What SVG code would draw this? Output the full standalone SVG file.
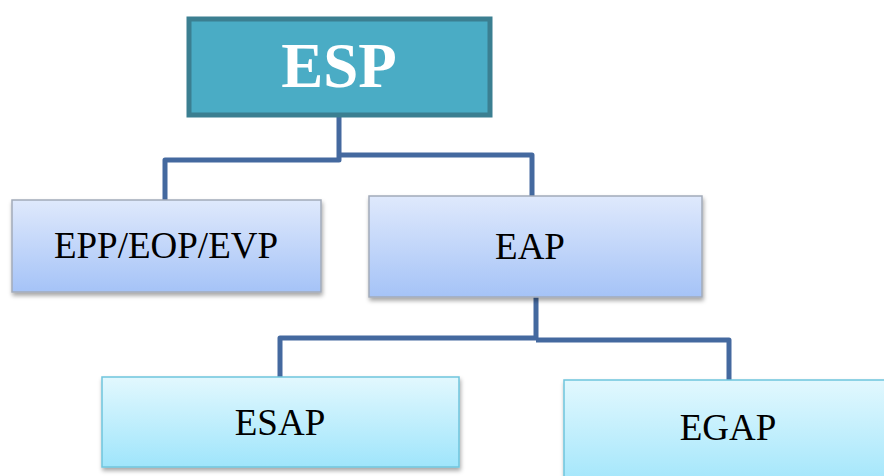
<svg xmlns="http://www.w3.org/2000/svg" width="884" height="476" viewBox="0 0 884 476">
  <defs>
    <linearGradient id="blueFill" x1="0" y1="0" x2="0" y2="1">
      <stop offset="0" stop-color="#dfe9fc"/>
      <stop offset="1" stop-color="#a5c3f7"/>
    </linearGradient>
    <linearGradient id="cyanFill" x1="0" y1="0" x2="0" y2="1">
      <stop offset="0" stop-color="#e2f8fe"/>
      <stop offset="1" stop-color="#9fe5fb"/>
    </linearGradient>
    <filter id="shadow" x="-10%" y="-10%" width="120%" height="130%">
      <feDropShadow dx="1" dy="3" stdDeviation="2" flood-color="#000" flood-opacity="0.35"/>
    </filter>
  </defs>
  <style>
    .lbl { font-family: "Liberation Serif", "Times New Roman", serif; font-size: 37px; fill: #000; text-anchor: middle; }
    .root { font-family: "Liberation Serif", "Times New Roman", serif; font-size: 63px; font-weight: bold; fill: #fff; text-anchor: middle; }
    .blue { fill: url(#blueFill); stroke: #a3abb9; stroke-width: 1.5; filter: url(#shadow); }
    .cyan { fill: url(#cyanFill); stroke: #6fc5dd; stroke-width: 1.5; filter: url(#shadow); }
    .wire { fill: none; stroke: #44699f; stroke-width: 5; stroke-linejoin: round; }
  </style>

  <rect width="884" height="476" fill="#fff"/>

  <g id="connectors">
    <polyline class="wire" points="339,117 339,160 165,160 165,201"/>
    <polyline class="wire" points="339,155 532,155 532,197"/>
    <polyline class="wire" points="536,297 536,338 280,338 280,378"/>
    <polyline class="wire" points="536,340 729,340 729,381"/>
  </g>

  <g id="esp">
    <rect x="189" y="19" width="301" height="96" fill="#4aacc5" stroke="#3b7f91" stroke-width="5"/>
    <text class="root" x="339" y="87">ESP</text>
  </g>

  <g id="epp-eop-evp">
    <rect class="blue" x="12" y="200" width="309" height="92"/>
    <text class="lbl" x="166" y="258">EPP/EOP/EVP</text>
  </g>

  <g id="eap">
    <rect class="blue" x="369" y="196" width="333" height="101"/>
    <text class="lbl" x="530" y="259">EAP</text>
  </g>

  <g id="esap">
    <rect class="cyan" x="102" y="377" width="357" height="90"/>
    <text class="lbl" x="280" y="435">ESAP</text>
  </g>

  <g id="egap">
    <rect class="cyan" x="564" y="380" width="340" height="110"/>
    <text class="lbl" x="728" y="440">EGAP</text>
  </g>
</svg>
